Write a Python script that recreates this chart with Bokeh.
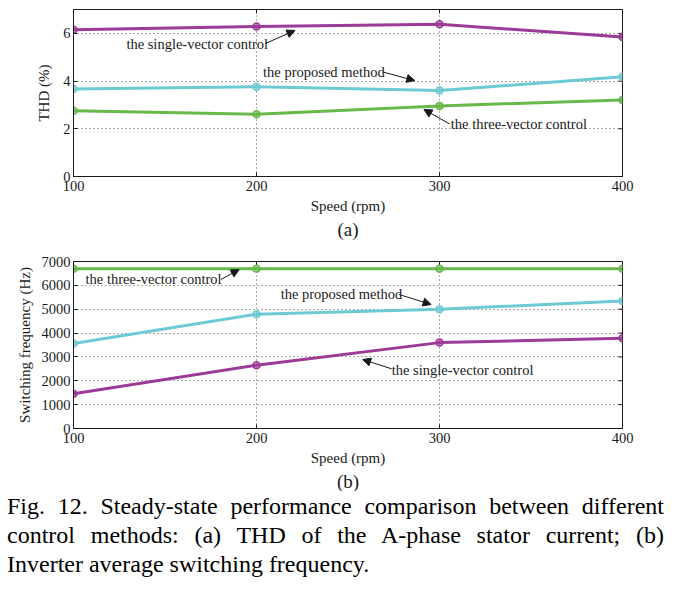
import math
from bokeh.plotting import figure
from bokeh.models import (ColumnDataSource, Title, Arrow, NormalHead,
                          Label, Div, FixedTicker, Range1d)
from bokeh.layouts import column
from bokeh.embed import file_html
from bokeh.resources import INLINE

# ---------------- data ----------------
speed = [100, 200, 300, 400]

thd_single = [6.15, 6.29, 6.38, 5.85]
thd_proposed = [3.67, 3.76, 3.60, 4.18]
thd_three = [2.76, 2.61, 2.96, 3.21]

fsw_single = [1460, 2650, 3600, 3780]
fsw_proposed = [3560, 4790, 5000, 5340]
fsw_three = [6700, 6700, 6700, 6700]

x_ticks = [100, 200, 300, 400]
thd_ticks = [0, 2, 4, 6]
fsw_ticks = [0, 1000, 2000, 3000, 4000, 5000, 6000, 7000]

PURPLE = "#9c3a98"
CYAN = "#6ccad4"
GREEN = "#68b84a"
FONT = "Liberation Serif"
INK = "#1a1a1a"

# annotations: (text, text_x, text_y, arrow_start_x, arrow_start_y, arrow_end_x, arrow_end_y)
notes_a = [
    ("the single-vector control", 128.9, 5.57, 204.7, 5.57, 221.0, 6.12),
    ("the proposed method", 203.6, 4.40, 269.1, 4.38, 286.5, 4.02),
    ("the three-vector control", 306.2, 2.18, 305.6, 2.20, 291.5, 2.81),
]
notes_b = [
    ("the three-vector control", 106.6, 6246, 180.6, 6246, 190.5, 6660),
    ("the proposed method", 213.2, 5617, 277.9, 5617, 295.4, 5200),
    ("the single-vector control", 273.9, 2473, 273.9, 2500, 258.0, 2890),
]


def make_fig(ys, ymax, yticks, ylabel, notes, tag, border_left, border_top,
             border_bottom, ylabel_standoff):
    p = figure(frame_width=549, frame_height=167, output_backend="svg",
               toolbar_location=None, x_range=Range1d(100, 400),
               y_range=Range1d(0, ymax),
               min_border_left=border_left, min_border_top=border_top,
               min_border_right=40, min_border_bottom=border_bottom)
    p.background_fill_color = "white"
    p.border_fill_color = "white"
    p.outline_line_color = INK
    p.outline_line_width = 1

    for ax in (p.xaxis[0], p.yaxis[0]):
        ax.major_label_text_font = FONT
        ax.major_label_text_font_size = "14.5px"
        ax.major_label_text_color = INK
        ax.axis_label_text_font = FONT
        ax.axis_label_text_font_size = "15px"
        ax.axis_label_text_font_style = "normal"
        ax.axis_label_text_color = INK
        ax.axis_line_color = INK
        ax.major_tick_line_color = INK
        ax.major_tick_in = 4
        ax.major_tick_out = 0
        ax.minor_tick_line_color = None
    p.xaxis[0].ticker = FixedTicker(ticks=x_ticks)
    p.yaxis[0].ticker = FixedTicker(ticks=yticks)
    p.xaxis[0].axis_label = "Speed (rpm)"
    p.xaxis[0].axis_label_standoff = 4
    p.xaxis[0].major_label_standoff = 4
    p.yaxis[0].axis_label = ylabel
    p.yaxis[0].axis_label_standoff = ylabel_standoff
    p.yaxis[0].major_label_standoff = 3

    for g in (p.xgrid[0], p.ygrid[0]):
        g.grid_line_color = "#555555"
        g.grid_line_dash = "1 3"
        g.grid_line_width = 1
    p.xgrid[0].ticker = FixedTicker(ticks=x_ticks)
    p.ygrid[0].ticker = FixedTicker(ticks=yticks)

    # inward ticks on the right and top sides of the box (clipped to the frame)
    p.scatter(x=[x_ticks[-1]] * len(yticks), y=yticks, marker="dash", size=8,
              line_color=INK, line_width=1)
    p.scatter(x=x_ticks, y=[ymax] * len(x_ticks), marker="dash", size=8,
              angle=math.pi / 2, line_color=INK, line_width=1)

    for vals, col in ys:
        src = ColumnDataSource(dict(x=speed, y=vals))
        p.line("x", "y", source=src, line_color=col, line_width=3)
        p.scatter("x", "y", source=src, size=7, line_color=col, line_width=1.5,
                  fill_color=col, fill_alpha=0.55)

    for text, tx, ty, ax0, ay0, ax1, ay1 in notes:
        p.add_layout(Label(x=tx, y=ty, text=text, text_font=FONT,
                           text_font_size="14.5px", text_color=INK,
                           text_baseline="middle", text_align="left"))
        p.add_layout(Arrow(x_start=ax0, y_start=ay0, x_end=ax1, y_end=ay1,
                           line_color=INK, line_width=1,
                           end=NormalHead(size=8, fill_color=INK,
                                          line_color=INK)))

    p.add_layout(Title(text=tag, align="center", text_font=FONT,
                       text_font_size="19px", text_font_style="normal",
                       text_color=INK, offset=0, standoff=0), "below")
    return p


fig_a = make_fig([(thd_single, PURPLE), (thd_proposed, CYAN), (thd_three, GREEN)],
                 7, thd_ticks, "THD (%)", notes_a, "(a)", 71, 9, 68, 8)
fig_b = make_fig([(fsw_three, GREEN), (fsw_proposed, CYAN), (fsw_single, PURPLE)],
                 7000, fsw_ticks, "Switching frequency (Hz)", notes_b, "(b)", 73, 17, 62, 6)

line_style = ("font-family:'Liberation Serif','Times New Roman',serif;font-size:24px;"
              "line-height:29px;color:#000;white-space:nowrap;width:657px;"
              "margin-left:2px;")
caption_html = (
    f"<div style=\"{line_style}text-align:justify;text-align-last:justify;margin-top:-4px;\">"
    "Fig. 12. Steady-state performance comparison between different</div>"
    f"<div style=\"{line_style}text-align:justify;text-align-last:justify;\">"
    "control methods: (a) THD of the A-phase stator current; (b)</div>"
    f"<div style=\"{line_style}text-align:left;\">"
    "Inverter average switching frequency.</div>"
)
caption = Div(text=caption_html, width=670, height=90)

layout = column(fig_a, fig_b, caption, spacing=0)

open("out.html", "w").write(file_html(layout, INLINE))
